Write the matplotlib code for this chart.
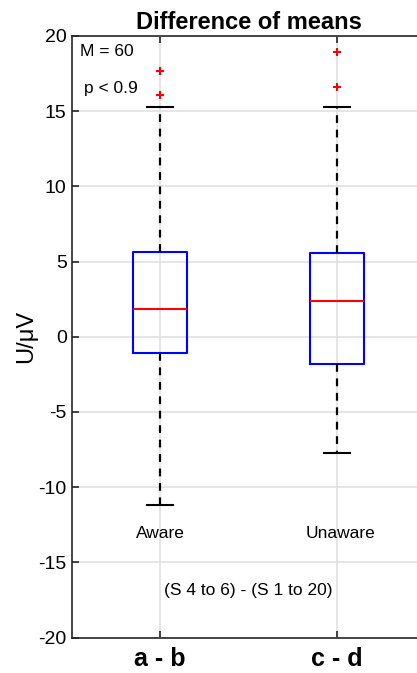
import matplotlib
matplotlib.use("Agg")
import matplotlib.pyplot as plt

plt.rcParams['font.family'] = ['Liberation Sans', 'DejaVu Sans']

categories = ["a - b", "c - d"]
group_labels = ["Aware", "Unaware"]
q1 = [-1.11, -1.78]
medians = [1.86, 2.35]
q3 = [5.65, 5.60]
whislo = [-11.18, -7.74]
whishi = [15.3, 15.3]
fliers = [[16.08, 17.65], [16.59, 18.94]]
yticks = [-20, -15, -10, -5, 0, 5, 10, 15, 20]

fig = plt.figure(figsize=(4.17, 6.73), dpi=100)
ax = fig.add_axes([71.5/417, 1 - 637.5/673, 354/417, 601.5/673])

stats = []
for i in range(len(categories)):
    stats.append(dict(med=medians[i], q1=q1[i], q3=q3[i], whislo=whislo[i],
                      whishi=whishi[i], fliers=fliers[i], label=categories[i]))

ax.bxp(stats, positions=[1, 2], widths=0.3, showfliers=True,
       boxprops=dict(color='#0000ff', linewidth=1.5),
       medianprops=dict(color='#ff0000', linewidth=1.5),
       whiskerprops=dict(color='black', linewidth=1.6, linestyle=(0, (3.5, 3))),
       capprops=dict(color='black', linewidth=1.5),
       capwidths=0.15,
       flierprops=dict(marker='+', markeredgecolor='#ff0000', markersize=5.5,
                       markeredgewidth=1.5, linestyle='none'),
       zorder=3)

ax.set_xlim(0.5, 2.5)
ax.set_ylim(-20, 20)
ax.set_yticks(yticks)
ax.set_yticklabels([str(v) for v in yticks], fontsize=14)
ax.set_xticks([1, 2])
ax.set_xticklabels(categories, fontsize=18, fontweight='bold')
ax.tick_params(direction='in', length=5, width=1.2, top=True, right=True,
               colors='#262626', labelcolor='black')
ax.tick_params(axis='x', pad=7)
ax.grid(True, color='#e0e0e0', linewidth=1.2, zorder=0)
ax.set_axisbelow(True)
for s in ax.spines.values():
    s.set_color('#262626')
    s.set_linewidth(1.2)

ax.set_ylabel("U/μV", fontsize=17, labelpad=1)
ax.set_title("Difference of means", fontsize=17, fontweight='bold', pad=5)

ax.text(0.55, 19.0, "M = 60", fontsize=12.5, va='center', ha='left')
ax.text(0.57, 16.5, "p < 0.9", fontsize=12.5, va='center', ha='left')
ax.text(1, -13.1, group_labels[0], fontsize=12.5, ha='center', va='center')
ax.text(2.02, -13.1, group_labels[1], fontsize=12.5, ha='center', va='center')
ax.text(1.5, -16.9, "(S 4 to 6) - (S 1 to 20)", fontsize=12.5, ha='center', va='center')

fig.savefig("out.png", dpi=100)
